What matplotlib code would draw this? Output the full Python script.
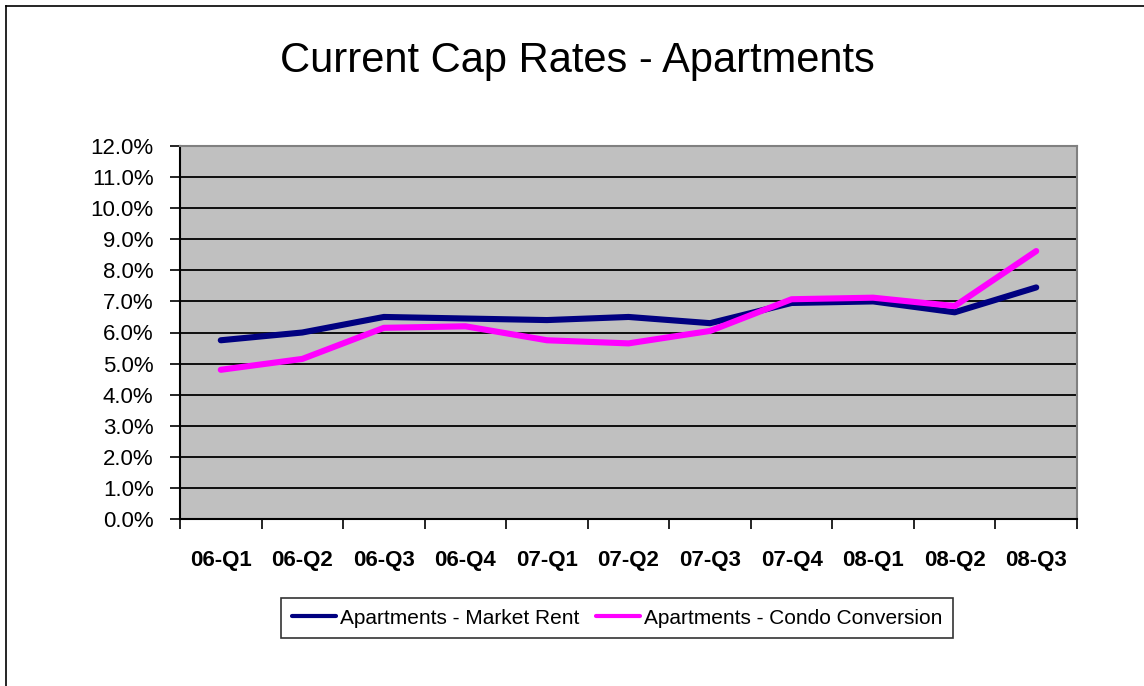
import matplotlib.pyplot as plt
import numpy as np
from matplotlib.lines import Line2D
from matplotlib.ticker import FuncFormatter, FixedLocator

plt.rcParams['font.family'] = ['Liberation Sans', 'DejaVu Sans']

quarters = ['06-Q1', '06-Q2', '06-Q3', '06-Q4', '07-Q1', '07-Q2',
            '07-Q3', '07-Q4', '08-Q1', '08-Q2', '08-Q3']
market_rent = [5.75, 6.0, 6.5, 6.45, 6.4, 6.5, 6.3, 6.95, 7.0, 6.65, 7.45]
condo_conversion = [4.8, 5.15, 6.15, 6.2, 5.75, 5.65, 6.05, 7.07, 7.12, 6.85, 8.62]

W, H = 1144, 686
fig = plt.figure(figsize=(W / 100, H / 100), dpi=100)

# outer chart border (left and top edges only visible)
fig.add_artist(Line2D([6 / W, 6 / W], [0, 1 - 6 / H], color='black', lw=1.2,
                      transform=fig.transFigure))
fig.add_artist(Line2D([6 / W, 1], [1 - 6 / H, 1 - 6 / H], color='black', lw=1.2,
                      transform=fig.transFigure))

left, right, top, bottom = 180, 1077, 146, 519
ax = fig.add_axes([left / W, 1 - bottom / H, (right - left) / W, (bottom - top) / H])
ax.set_facecolor('#c0c0c0')

x = np.arange(len(quarters))
ax.plot(x, market_rent, color='#000080', lw=4.4, solid_capstyle='round',
        solid_joinstyle='round', label='Apartments - Market Rent', zorder=3)
ax.plot(x, condo_conversion, color='#ff00ff', lw=4.4, solid_capstyle='round',
        solid_joinstyle='round', label='Apartments - Condo Conversion', zorder=4)

ax.set_xlim(-0.5, len(quarters) - 0.5)
ax.set_ylim(0, 12)
ax.set_yticks(np.arange(0, 12.5, 1))
ax.yaxis.set_major_formatter(FuncFormatter(lambda v, p: f'{v:.1f}%'))
ax.yaxis.grid(True, color='black', lw=1.3)
ax.set_axisbelow(True)

ax.xaxis.set_major_locator(FixedLocator(np.arange(-0.5, len(quarters), 1)))
ax.xaxis.set_major_formatter(FuncFormatter(lambda v, p: ''))
ax.xaxis.set_minor_locator(FixedLocator(x))
ax.set_xticklabels(quarters, minor=True, fontweight='bold', fontsize=16)
ax.tick_params(axis='x', which='minor', length=0, pad=22)
ax.tick_params(axis='x', which='major', length=7, width=1.2, color='black')
ax.tick_params(axis='y', length=7, width=1.2, labelsize=16, pad=12)

for s in ['top', 'right']:
    ax.spines[s].set_color('#808080')
    ax.spines[s].set_linewidth(1.5)
for s in ['left', 'bottom']:
    ax.spines[s].set_color('black')
    ax.spines[s].set_linewidth(1.5)

fig.text(577 / W, 1 - 61 / H, 'Current Cap Rates - Apartments', fontsize=30,
         ha='center', va='center')

leg = fig.legend(loc='center', bbox_to_anchor=(617 / W, 1 - 618 / H), ncol=2,
                 fontsize=15, frameon=True, fancybox=False, handlelength=2.1,
                 handletextpad=0.2, columnspacing=0.8, borderpad=0.5,
                 borderaxespad=0)
leg.get_frame().set_edgecolor('black')
leg.get_frame().set_linewidth(1.2)
for line in leg.get_lines():
    line.set_linewidth(3)

fig.savefig('out.png', dpi=100)
